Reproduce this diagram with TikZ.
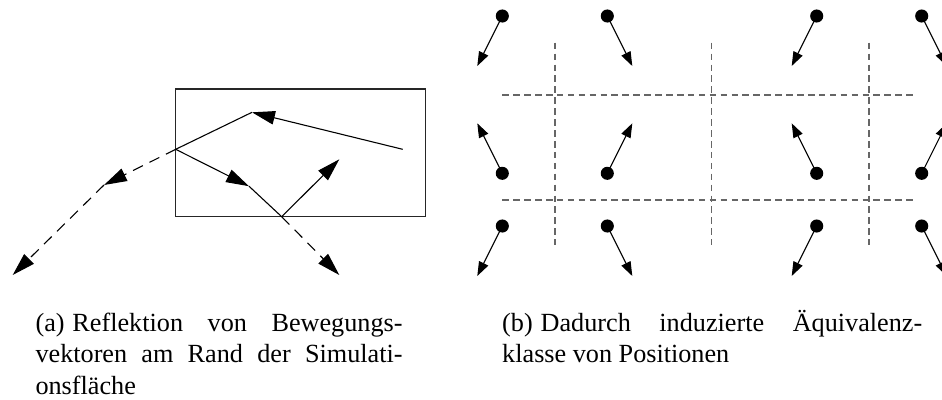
\documentclass[tikz,border=0pt]{standalone}
\usepackage{fontspec}
\setmainfont{Liberation Serif}
\usetikzlibrary{arrows.meta}
\tikzset{>=stealth}
\tikzset{
  vec/.style={-{Triangle[length=10.5pt,width=6.2pt]}},
  pvec/.style={-{Triangle[length=6.5pt,width=4.6pt]}},
  ext/.style={dash pattern=on 5pt off 3.4pt},
  grid/.style={black!60,dash pattern=on 3pt off 2pt},
  dot/.style={circle,fill,inner sep=0pt,minimum size=6pt},
  capt/.style={inner sep=0pt,anchor=base west,align=justify,font=\fontsize{12}{14.5}\selectfont}
}

\begin{document}
\begin{tikzpicture}[x=0.458pt,y=-0.458pt,line width=0.5pt]
\useasboundingbox (0,0) rectangle (942,399);
\clip (0,0) rectangle (942,399);
\draw[black!85,line width=0.6pt] (175.7,89) rectangle (425.3,216.7);
\coordinate (p0) at (402.7,149.3);
\coordinate (a) at (252,112.3);
\coordinate (b) at (175.7,149.3);
\coordinate (c) at (104,185);
\coordinate (d) at (249,186.2);
\coordinate (e) at (281.7,216.7);
\coordinate (f) at (12.7,275);
\coordinate (g) at (339.3,159.3);
\coordinate (h) at (339.3,275);
\draw[vec] (p0) -- (a);
\draw (a) -- (b);
\draw[vec,ext] (b) -- (c);
\draw[vec,ext] (c) -- (f);
\draw[vec] (b) -- (d);
\draw (d) -- (e);
\draw[vec] (e) -- (g);
\draw[vec,ext] (e) -- (h);
\node[capt,text width=367*0.458pt] (capa) at (35,331)
  {(a)\hspace{0.3em}Reflektion von Bewegungs-\linebreak vektoren am Rand der Simulati-\linebreak onsfläche};
\begin{scope}
\foreach \x in {555,711.7,869}
  \draw[grid] (\x,42.7) -- (\x,245);
\foreach \y in {95,200}
  \draw[grid] (502.3,\y) -- (915,\y);
\foreach \x/\s [count=\i] in {502.3/-1,607.3/1,816.7/-1,921.7/1} {
  \foreach \y/\d [count=\j] in {16/1,173.3/-1,226/1} {
    \node[dot] (p\j\i) at (\x,\y) {};
    \coordinate (t\j\i) at (\x+25*\s,\y+50*\d);
    \draw[pvec] (p\j\i.center) -- (t\j\i);
  }
}
\end{scope}
\node[capt,text width=420*0.458pt] (captb) at (501.7,331)
  {(b)\hspace{0.3em}Dadurch induzierte Äquivalenz-\linebreak klasse von Positionen};
\end{tikzpicture}
\end{document}
